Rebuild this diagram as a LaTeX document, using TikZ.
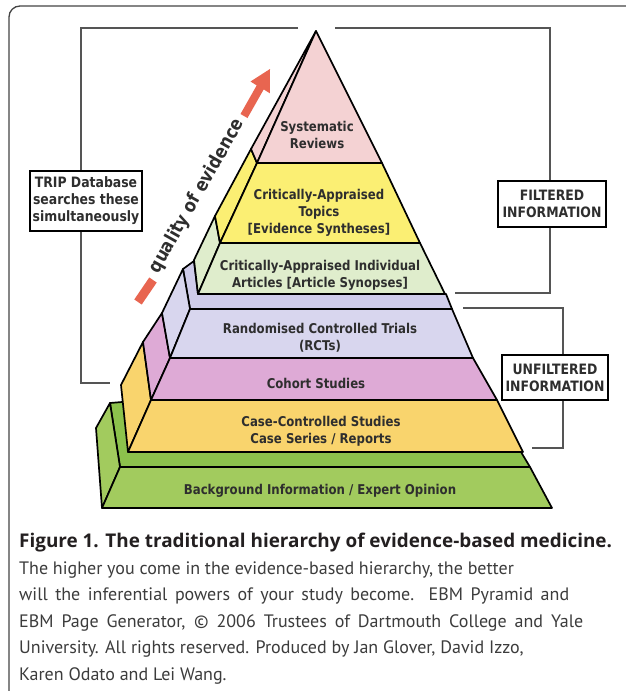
\documentclass[tikz,border=0pt]{standalone}
\usepackage{fontspec}
\newfontfamily\pyrfont[FakeStretch=0.87]{DejaVu Sans}
\newfontfamily\capfont{PT Sans}
\newfontfamily\capboldfont{Open Sans}
\definecolor{srpink}{HTML}{F4D2D3}
\definecolor{catyellow}{HTML}{FBEF73}
\definecolor{caiagreen}{HTML}{DFEDCC}
\definecolor{rctlav}{HTML}{D8D6EE}
\definecolor{rcttop}{HTML}{CFCCEA}
\definecolor{cohpink}{HTML}{DEAAD6}
\definecolor{caseorange}{HTML}{F9D46D}
\definecolor{bggreen}{HTML}{A2CB5E}
\definecolor{bgstrip}{HTML}{8CC24C}
\definecolor{arrowred}{HTML}{E86550}
\definecolor{txtdark}{HTML}{2E2E2E}
\definecolor{bracketgray}{HTML}{555555}
\definecolor{framegray}{HTML}{444444}
\definecolor{capbold}{HTML}{231F20}
\definecolor{capreg}{HTML}{3C3C3C}
\tikzset{
  face/.style={draw=black, line width=1.7pt, line join=round},
  pyrtext/.style={align=center, inner sep=0pt, text=txtdark,
    font=\pyrfont\bfseries\fontsize{13.5}{17}\selectfont},
  infobox/.style={draw=black, line width=1.8pt, fill=white, align=center,
    inner sep=0pt, text=txtdark, font=\pyrfont\bfseries\fontsize{14.3}{17}\selectfont},
  bracket/.style={draw=bracketgray, line width=1.4pt},
  capline/.style={anchor=base west, inner sep=0pt, text=capreg,
    font=\capfont\fontsize{18}{26}\selectfont},
}
\begin{document}
\begin{tikzpicture}[x=1pt,y=-1pt]
\useasboundingbox (0,0) rectangle (626,691);
\fill[white] (0,0) rectangle (626,691);
% outer frame (open to the right and bottom)
\begin{scope}
\clip (0,0) rectangle (626,691);
\draw[framegray, line width=1.3pt, rounded corners=11pt] (9,6) rectangle (680,740);
\end{scope}

% ---------- background slab ----------
\fill[bgstrip] (110,403) -- (150,401) -- (150,452) -- (521,452) -- (530,467) -- (120,467) -- cycle;
\draw[face] (122,402) -- (110,403) -- (120,467);
\draw[face] (521,452) -- (530,467);
\filldraw[face, fill=bggreen] (110,403) -- (96,428) -- (102,508) -- (120,467) -- cycle;
\filldraw[face, fill=bggreen] (120,467) -- (530,467) -- (552,508) -- (102,508) -- cycle;
% ---------- case ----------
\filldraw[face, fill=caseorange] (143,342) -- (121,385) -- (128,452) -- (151,400) -- cycle;
\filldraw[face, fill=caseorange] (151,400) -- (497,400) -- (523,452) -- (128,452) -- cycle;
% ---------- cohort ----------
\filldraw[face, fill=cohpink] (162,313) -- (143,342) -- (151,400) -- (170,358) -- cycle;
\filldraw[face, fill=cohpink] (170,358) -- (473,358) -- (497,400) -- (151,400) -- cycle;
% ---------- RCT ----------
\filldraw[face, fill=rcttop] (183,269) -- (194,261) -- (198,294) -- (446,294) -- (452,309) -- (190,309) -- cycle;
\filldraw[face, fill=rctlav] (183,269) -- (162,313) -- (170,358) -- (190,309) -- cycle;
\filldraw[face, fill=rctlav] (190,309) -- (452,309) -- (473,358) -- (170,358) -- cycle;
% ---------- CAIA ----------
\filldraw[face, fill=caiagreen] (215,216) -- (194,260) -- (198,294) -- (220,243) -- cycle;
\filldraw[face, fill=caiagreen] (220,243) -- (420,243) -- (445,294) -- (198,294) -- cycle;
% ---------- CAT ----------
\filldraw[face, fill=catyellow] (251,149) -- (215,216) -- (220,243) -- (257,163) -- cycle;
\filldraw[face, fill=catyellow] (257,163) -- (382,163) -- (420,243) -- (220,243) -- cycle;
% ---------- SR ----------
\filldraw[face, fill=srpink] (316,31) -- (251,149) -- (257,163) -- cycle;
\filldraw[face, fill=srpink] (316,31) -- (382,163) -- (257,163) -- cycle;

% ---------- layer texts ----------
\node[pyrtext] (sr) at (317,135) {Systematic\\Reviews};
\node[pyrtext] (cat) at (319,213) {Critically-Appraised\\Topics\\{[}Evidence Syntheses{]}};
\node[pyrtext] (caia) at (320,275) {Critically-Appraised Individual\\Articles {[}Article Synopses{]}};
\node[pyrtext] (rct) at (320,338) {Randomised Controlled Trials\\(RCTs)};
\node[pyrtext] (coh) at (316,383) {Cohort Studies};
\node[pyrtext] (case) at (321,431) {Case-Controlled Studies\\Case Series / Reports};
\node[pyrtext] (bg) at (320,491) {Background Information / Expert Opinion};

% ---------- quality arrow ----------
\draw[arrowred, line width=9pt] (138,302) -- (153,280);
\fill[arrowred] (240.5,114) -- (256.7,85.4) -- (250.5,81.5) -- (270,69) -- (269.9,93.3) -- (263.7,89.4) -- (247.5,118) -- cycle;
\node[rotate=60.5, inner sep=0pt, text=txtdark, font=\pyrfont\bfseries\fontsize{18.5}{20}\selectfont] (qual) at (197,196) {quality of evidence};

% ---------- info boxes ----------
\node[infobox, minimum width=112pt, minimum height=60pt] (trip) at (86,201) {TRIP Database\\searches these\\simultaneously};
\node[infobox, minimum width=108pt, minimum height=46pt] (filt) at (552,204) {FILTERED\\INFORMATION};
\node[infobox, minimum width=106pt, minimum height=45pt] (unf) at (555,377.5) {UNFILTERED\\INFORMATION};

% ---------- brackets ----------
\coordinate (lt) at (298,28);
\coordinate (lx) at (81,28);
\coordinate (lb) at (110,383);
\draw[bracket] (lt) -- (lx) -- (lx |- trip.north);
\draw[bracket] (lx |- trip.south) -- (lx |- lb) -- (lb);
\coordinate (ft) at (335,28);
\coordinate (fx) at (550,28);
\coordinate (fb) at (455,293);
\draw[bracket] (ft) -- (fx) -- (fx |- filt.north);
\draw[bracket] (fx |- filt.south) -- (fx |- fb) -- (fb);
\coordinate (ut) at (463,308);
\coordinate (ux) at (563,308);
\coordinate (ub) at (532,448);
\draw[bracket] (ut) -- (ux) -- (ux |- unf.north);
\draw[bracket] (ux |- unf.south) -- (ux |- ub) -- (ub);

% ---------- caption ----------
\node[capline, text=capbold, font=\capboldfont\bfseries\fontsize{18.9}{26}\selectfont] (cap1) at (19,547) {Figure 1. The traditional hierarchy of evidence-based medicine.};
\node[capline] (cap2) at (19,574) {The higher you come in the evidence-based hierarchy, the better};
\node[capline] (cap3) at (19,600.5) {\makebox[550pt][s]{will the inferential powers of your study become. EBM Pyramid and}};
\node[capline] (cap4) at (19,627) {\makebox[564pt][s]{EBM Page Generator, © 2006 Trustees of Dartmouth College and Yale}};
\node[capline] (cap5) at (19,653.5) {University. All rights reserved. Produced by Jan Glover, David Izzo,};
\node[capline] (cap6) at (19,680) {Karen Odato and Lei Wang.};
\end{tikzpicture}
\end{document}
